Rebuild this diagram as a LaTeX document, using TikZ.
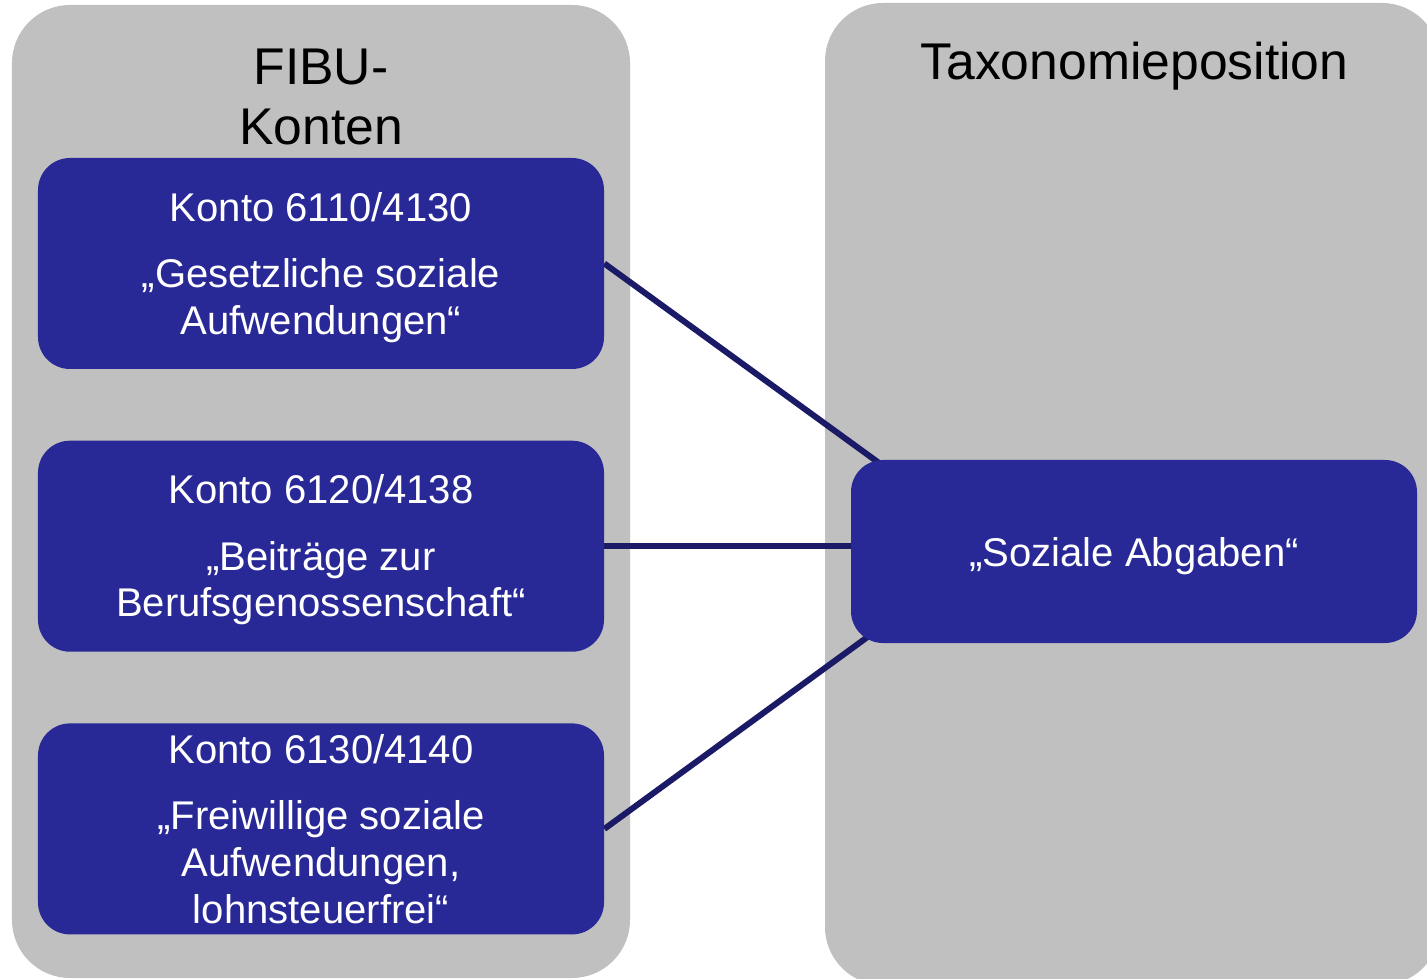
\documentclass[tikz,border=0pt]{standalone}
\usepackage{fontspec}
\setmainfont{Liberation Sans}
\usetikzlibrary{positioning, backgrounds}
\definecolor{panelgrau}{HTML}{C0C0C0}
\definecolor{kontoblau}{HTML}{282896}
\definecolor{linienblau}{HTML}{1B1A66}

\begin{document}
\begin{tikzpicture}[
        node distance=1.42cm,
        panel/.style={fill=panelgrau, rounded corners=1.16cm, minimum width=12.36cm, minimum height=19.46cm},
        titel/.style={font=\fontsize{29.4}{34.1}\selectfont, align=center, text=black},
        konto/.style={fill=kontoblau, rounded corners=0.64cm, minimum width=11.32cm, minimum height=4.22cm, align=center, text=white, font=\fontsize{22.8}{26.7}\selectfont},
        verbindung/.style={draw=linienblau, line width=0.12cm}
    ]
    \useasboundingbox (0,0) rectangle (28.54,-19.58);

    % Konten links
    \node[konto] (k1) at (6.42,-5.27) {\rule{0pt}{20.9pt}Konto 6110/4130\\[11pt]„Gesetzliche soziale\\Aufwendungen“};
    \node[konto, below=of k1] (k2) {\rule{0pt}{20.9pt}Konto 6120/4138\\[11pt]„Beiträge zur\\Berufsgenossenschaft“};
    \node[konto, below=of k2] (k3) {Konto 6130/4140\\[11pt]„Freiwillige soziale\\Aufwendungen,\\lohnsteuerfrei“};

    % Taxonomieposition rechts
    \node[konto, minimum height=3.66cm, text height=22.2pt, text depth=4.8pt] (tax) at (22.68,-11.03) {„Soziale Abgaben“};

    \begin{scope}[on background layer]
        \node[panel] (fibu) at (6.42,-9.83) {};
        \node[panel, minimum width=12.3cm, minimum height=19.64cm] (taxpanel) at (22.65,-9.88) {};
        % Zuordnung der Konten
        \draw[verbindung] (k1.east) -- ([xshift=1cm,yshift=-0.38cm]tax.north west);
        \draw[verbindung] (k2.east) -- (k2.east -| tax.west);
        \draw[verbindung] (k3.east) -- ([xshift=1cm,yshift=0.61cm]tax.south west);
    \end{scope}

    % Ueberschriften
    \node[titel] (fibutitel) at (6.42,-1.94) {FIBU-\\Konten};
    \node[titel] (taxtitel) at (22.69,-1.32) {Taxonomieposition};
\end{tikzpicture}
\end{document}
